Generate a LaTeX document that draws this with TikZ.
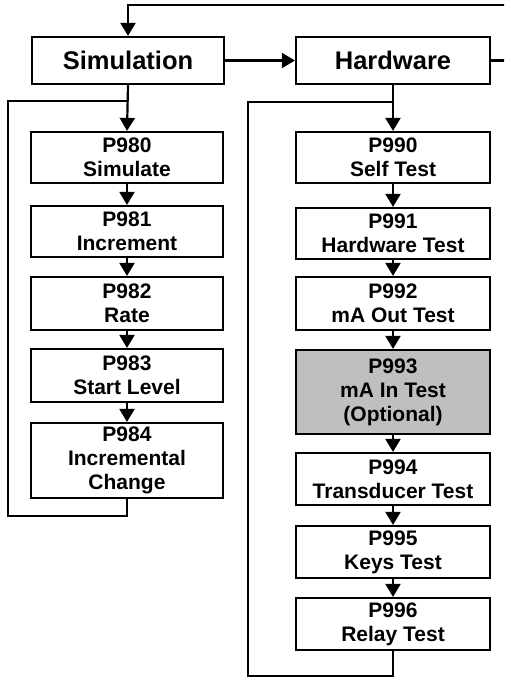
\documentclass[tikz,border=0pt]{standalone}
\usepackage{fontspec}
\setmainfont{Liberation Sans}
\usetikzlibrary{arrows.meta}
\begin{document}
\begin{tikzpicture}[x=1pt,y=-1pt,
  box/.style={draw=black, line width=2.2pt, fill=white, align=center, inner sep=0pt,
    font=\fontsize{21}{24}\selectfont\bfseries},
  lbox/.style={box, minimum width=192pt},
  rbox/.style={box, minimum width=194pt},
  head/.style={font=\fontsize{25.5}{30}\selectfont\bfseries, minimum height=47pt},
  conn/.style={line width=2.2pt, draw=black},
  arr/.style={conn, -{Triangle[length=13pt,width=15pt]}},
  opt/.style={fill=black!25}
]
\clip (0,0) rectangle (504,677);
\useasboundingbox (0,0) rectangle (504,677);

\node[lbox, head] (sim) at (128,60.5) {Simulation};
\node[rbox, head] (hw)  at (393,60.5) {Hardware};

\node[lbox, minimum height=51pt] (p980) at (127,157.5) {P980\\Simulate};
\node[lbox, minimum height=51pt] (p981) at (127,231.5) {P981\\Increment};
\node[lbox, minimum height=53pt] (p982) at (127,303.5) {P982\\Rate};
\node[lbox, minimum height=53pt] (p983) at (127,375.5) {P983\\Start Level};
\node[lbox, minimum height=75pt] (p984) at (127,460.5) {P984\\Incremental\\Change};

\node[rbox, minimum height=51pt] (p990) at (393,157.5) {P990\\Self Test};
\node[rbox, minimum height=51pt] (p991) at (393,233.5) {P991\\Hardware Test};
\node[rbox, minimum height=53pt] (p992) at (393,303.5) {P992\\mA Out Test};
\node[rbox, opt, minimum height=84pt] (p993) at (393,392) {P993\\mA In Test\\(Optional)};
\node[rbox, minimum height=52pt] (p994) at (393,479) {P994\\Transducer Test};
\node[rbox, minimum height=52pt] (p995) at (393,552) {P995\\Keys Test};
\node[rbox, minimum height=52pt] (p996) at (393,624) {P996\\Relay Test};

\coordinate (ecorner) at (508,60.5);
\coordinate (tcorner) at (508,5);
\coordinate (ljun) at (127,101);
\coordinate (lbot) at (8,516);
\coordinate (rjun) at (393,102);
\coordinate (rbot) at (248,676);

% top loop back to Simulation
\draw[conn] (hw.east) -- (ecorner) -- (tcorner);
\draw[arr] (tcorner) -| (sim.north);
\draw[arr] (sim.east) -- (hw.west);

% simulation column
\draw[arr] (sim.south) -- (p980.north);
\draw[arr] (p980) -- (p981);
\draw[arr] (p981) -- (p982);
\draw[arr] (p982) -- (p983);
\draw[arr] (p983) -- (p984);
\draw[conn] (p984.south) |- (lbot) |- (ljun);

% hardware column
\draw[arr] (hw.south) -- (p990.north);
\draw[arr] (p990) -- (p991);
\draw[arr] (p991) -- (p992);
\draw[arr] (p992) -- (p993);
\draw[arr] (p993) -- (p994);
\draw[arr] (p994) -- (p995);
\draw[arr] (p995) -- (p996);
\draw[conn] (p996.south) |- (rbot) |- (rjun);
\end{tikzpicture}
\end{document}
